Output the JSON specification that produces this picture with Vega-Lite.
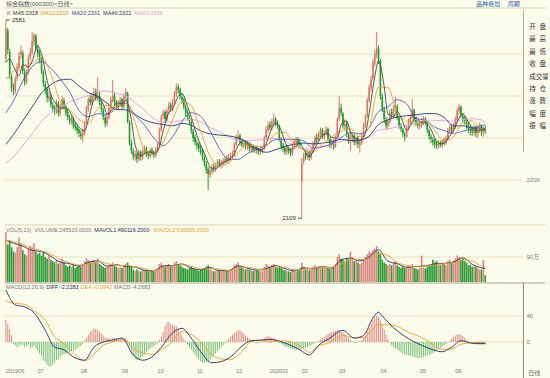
{
"$schema":"https://vega.github.io/schema/vega-lite/v6.json",
"width":550,"height":378,"padding":0,"autosize":{"type":"none"},
"background":"#fcfcec",
"config":{"view":{"stroke":null},"text":{"font":"Liberation Sans, Noto Sans CJK SC","fontSize":5.5,"baseline":"middle","align":"left"}},
"datasets":{
"k":[
{"i":0,"o":2490,"h":2581,"l":2480,"c":2560,"v":180,"m":34},
{"i":1,"o":2555,"h":2562,"l":2500,"c":2510,"v":135,"m":28},
{"i":2,"o":2505,"h":2512,"l":2440,"c":2450,"v":150,"m":20},
{"i":3,"o":2445,"h":2452,"l":2410,"c":2420,"v":125,"m":10},
{"i":4,"o":2418,"h":2430,"l":2402,"c":2415,"v":110,"m":-3},
{"i":5,"o":2412,"h":2448,"l":2405,"c":2440,"v":105,"m":-5},
{"i":6,"o":2442,"h":2478,"l":2436,"c":2470,"v":125,"m":-8},
{"i":7,"o":2468,"h":2505,"l":2460,"c":2495,"v":160,"m":-6},
{"i":8,"o":2498,"h":2520,"l":2488,"c":2505,"v":140,"m":-4},
{"i":9,"o":2502,"h":2508,"l":2452,"c":2460,"v":115,"m":-5},
{"i":10,"o":2458,"h":2465,"l":2425,"c":2435,"v":100,"m":-8},
{"i":11,"o":2432,"h":2462,"l":2428,"c":2455,"v":95,"m":-6},
{"i":12,"o":2456,"h":2498,"l":2450,"c":2490,"v":120,"m":-4},
{"i":13,"o":2492,"h":2515,"l":2485,"c":2505,"v":130,"m":-10},
{"i":14,"o":2503,"h":2552,"l":2498,"c":2530,"v":125,"m":-8},
{"i":15,"o":2528,"h":2550,"l":2520,"c":2545,"v":140,"m":-6},
{"i":16,"o":2543,"h":2548,"l":2508,"c":2515,"v":110,"m":-10},
{"i":17,"o":2512,"h":2522,"l":2492,"c":2500,"v":100,"m":-14},
{"i":18,"o":2502,"h":2510,"l":2478,"c":2485,"v":105,"m":-18},
{"i":19,"o":2483,"h":2490,"l":2452,"c":2460,"v":95,"m":-22},
{"i":20,"o":2458,"h":2462,"l":2422,"c":2430,"v":110,"m":-27},
{"i":21,"o":2428,"h":2436,"l":2405,"c":2415,"v":90,"m":-31},
{"i":22,"o":2418,"h":2422,"l":2385,"c":2395,"v":85,"m":-35},
{"i":23,"o":2392,"h":2412,"l":2386,"c":2400,"v":95,"m":-38},
{"i":24,"o":2398,"h":2405,"l":2372,"c":2380,"v":80,"m":-37},
{"i":25,"o":2378,"h":2386,"l":2362,"c":2370,"v":75,"m":-35},
{"i":26,"o":2372,"h":2378,"l":2355,"c":2365,"v":70,"m":-32},
{"i":27,"o":2362,"h":2392,"l":2358,"c":2385,"v":80,"m":-28},
{"i":28,"o":2383,"h":2388,"l":2352,"c":2360,"v":65,"m":-27},
{"i":29,"o":2358,"h":2382,"l":2352,"c":2375,"v":70,"m":-24},
{"i":30,"o":2373,"h":2400,"l":2368,"c":2392,"v":85,"m":-20},
{"i":31,"o":2390,"h":2396,"l":2368,"c":2375,"v":70,"m":-19},
{"i":32,"o":2373,"h":2380,"l":2352,"c":2360,"v":60,"m":-18},
{"i":33,"o":2362,"h":2368,"l":2342,"c":2350,"v":55,"m":-17},
{"i":34,"o":2348,"h":2355,"l":2332,"c":2340,"v":60,"m":-16},
{"i":35,"o":2338,"h":2352,"l":2332,"c":2345,"v":55,"m":-14},
{"i":36,"o":2346,"h":2350,"l":2322,"c":2330,"v":65,"m":-13},
{"i":37,"o":2332,"h":2338,"l":2318,"c":2325,"v":50,"m":-12},
{"i":38,"o":2326,"h":2332,"l":2310,"c":2318,"v":55,"m":-10},
{"i":39,"o":2320,"h":2325,"l":2302,"c":2312,"v":60,"m":-8},
{"i":40,"o":2310,"h":2318,"l":2296,"c":2305,"v":55,"m":-6},
{"i":41,"o":2302,"h":2322,"l":2290,"c":2315,"v":60,"m":-3},
{"i":42,"o":2312,"h":2340,"l":2306,"c":2335,"v":75,"m":2},
{"i":43,"o":2336,"h":2376,"l":2332,"c":2370,"v":85,"m":6},
{"i":44,"o":2368,"h":2398,"l":2362,"c":2392,"v":80,"m":11},
{"i":45,"o":2393,"h":2402,"l":2378,"c":2385,"v":70,"m":15},
{"i":46,"o":2383,"h":2408,"l":2378,"c":2400,"v":75,"m":18},
{"i":47,"o":2398,"h":2420,"l":2392,"c":2410,"v":80,"m":21},
{"i":48,"o":2412,"h":2418,"l":2388,"c":2395,"v":70,"m":20},
{"i":49,"o":2393,"h":2445,"l":2388,"c":2402,"v":85,"m":19},
{"i":50,"o":2400,"h":2410,"l":2378,"c":2385,"v":65,"m":16},
{"i":51,"o":2383,"h":2390,"l":2360,"c":2368,"v":60,"m":13},
{"i":52,"o":2366,"h":2372,"l":2342,"c":2350,"v":55,"m":10},
{"i":53,"o":2348,"h":2355,"l":2326,"c":2335,"v":50,"m":7},
{"i":54,"o":2333,"h":2358,"l":2328,"c":2350,"v":55,"m":6},
{"i":55,"o":2348,"h":2378,"l":2344,"c":2372,"v":60,"m":6},
{"i":56,"o":2370,"h":2398,"l":2365,"c":2390,"v":65,"m":5},
{"i":57,"o":2388,"h":2438,"l":2384,"c":2400,"v":70,"m":6},
{"i":58,"o":2402,"h":2410,"l":2378,"c":2385,"v":60,"m":6},
{"i":59,"o":2383,"h":2390,"l":2368,"c":2375,"v":55,"m":5},
{"i":60,"o":2372,"h":2390,"l":2366,"c":2382,"v":50,"m":4},
{"i":61,"o":2380,"h":2398,"l":2375,"c":2390,"v":55,"m":5},
{"i":62,"o":2392,"h":2396,"l":2368,"c":2375,"v":50,"m":4},
{"i":63,"o":2373,"h":2406,"l":2370,"c":2400,"v":60,"m":5},
{"i":64,"o":2398,"h":2418,"l":2392,"c":2410,"v":65,"m":6},
{"i":65,"o":2405,"h":2410,"l":2335,"c":2340,"v":70,"m":3},
{"i":66,"o":2338,"h":2342,"l":2282,"c":2290,"v":60,"m":-6},
{"i":67,"o":2288,"h":2295,"l":2262,"c":2270,"v":55,"m":-14},
{"i":68,"o":2268,"h":2275,"l":2248,"c":2258,"v":45,"m":-21},
{"i":69,"o":2255,"h":2270,"l":2246,"c":2262,"v":40,"m":-26},
{"i":70,"o":2262,"h":2268,"l":2240,"c":2250,"v":45,"m":-28},
{"i":71,"o":2248,"h":2272,"l":2244,"c":2265,"v":40,"m":-27},
{"i":72,"o":2266,"h":2270,"l":2246,"c":2255,"v":38,"m":-25},
{"i":73,"o":2253,"h":2275,"l":2248,"c":2268,"v":42,"m":-22},
{"i":74,"o":2266,"h":2282,"l":2260,"c":2275,"v":45,"m":-19},
{"i":75,"o":2276,"h":2280,"l":2255,"c":2262,"v":40,"m":-16},
{"i":76,"o":2262,"h":2268,"l":2250,"c":2258,"v":38,"m":-13},
{"i":77,"o":2256,"h":2276,"l":2252,"c":2270,"v":42,"m":-10},
{"i":78,"o":2272,"h":2278,"l":2258,"c":2265,"v":40,"m":-8},
{"i":79,"o":2266,"h":2270,"l":2252,"c":2260,"v":38,"m":-6},
{"i":80,"o":2258,"h":2278,"l":2254,"c":2272,"v":45,"m":-4},
{"i":81,"o":2270,"h":2290,"l":2265,"c":2285,"v":50,"m":-2},
{"i":82,"o":2286,"h":2325,"l":2282,"c":2320,"v":65,"m":3},
{"i":83,"o":2318,"h":2356,"l":2315,"c":2350,"v":70,"m":8},
{"i":84,"o":2352,"h":2368,"l":2345,"c":2360,"v":60,"m":16},
{"i":85,"o":2362,"h":2366,"l":2338,"c":2345,"v":55,"m":24},
{"i":86,"o":2343,"h":2372,"l":2340,"c":2365,"v":60,"m":30},
{"i":87,"o":2366,"h":2386,"l":2360,"c":2378,"v":65,"m":31},
{"i":88,"o":2380,"h":2385,"l":2362,"c":2370,"v":55,"m":28},
{"i":89,"o":2368,"h":2392,"l":2364,"c":2385,"v":60,"m":26},
{"i":90,"o":2386,"h":2412,"l":2380,"c":2405,"v":70,"m":25},
{"i":91,"o":2403,"h":2430,"l":2398,"c":2420,"v":75,"m":24},
{"i":92,"o":2422,"h":2428,"l":2406,"c":2415,"v":65,"m":20},
{"i":93,"o":2416,"h":2420,"l":2392,"c":2400,"v":60,"m":15},
{"i":94,"o":2398,"h":2405,"l":2382,"c":2390,"v":55,"m":10},
{"i":95,"o":2392,"h":2396,"l":2368,"c":2375,"v":50,"m":5},
{"i":96,"o":2374,"h":2380,"l":2352,"c":2360,"v":48,"m":1},
{"i":97,"o":2362,"h":2368,"l":2342,"c":2350,"v":45,"m":-4},
{"i":98,"o":2348,"h":2355,"l":2332,"c":2340,"v":50,"m":-8},
{"i":99,"o":2338,"h":2342,"l":2310,"c":2318,"v":55,"m":-12},
{"i":100,"o":2316,"h":2322,"l":2292,"c":2300,"v":50,"m":-16},
{"i":101,"o":2302,"h":2308,"l":2282,"c":2290,"v":45,"m":-20},
{"i":102,"o":2288,"h":2295,"l":2272,"c":2282,"v":42,"m":-24},
{"i":103,"o":2285,"h":2290,"l":2266,"c":2275,"v":40,"m":-27},
{"i":104,"o":2273,"h":2282,"l":2260,"c":2268,"v":45,"m":-30},
{"i":105,"o":2270,"h":2275,"l":2246,"c":2255,"v":48,"m":-32},
{"i":106,"o":2253,"h":2258,"l":2232,"c":2240,"v":50,"m":-32},
{"i":107,"o":2238,"h":2245,"l":2215,"c":2225,"v":55,"m":-31},
{"i":108,"o":2226,"h":2232,"l":2176,"c":2215,"v":60,"m":-30},
{"i":109,"o":2212,"h":2230,"l":2205,"c":2222,"v":45,"m":-27},
{"i":110,"o":2220,"h":2238,"l":2214,"c":2230,"v":42,"m":-24},
{"i":111,"o":2232,"h":2240,"l":2218,"c":2228,"v":38,"m":-21},
{"i":112,"o":2226,"h":2242,"l":2220,"c":2235,"v":40,"m":-18},
{"i":113,"o":2233,"h":2250,"l":2228,"c":2242,"v":45,"m":-14},
{"i":114,"o":2244,"h":2250,"l":2230,"c":2238,"v":40,"m":-11},
{"i":115,"o":2236,"h":2248,"l":2228,"c":2240,"v":38,"m":-8},
{"i":116,"o":2238,"h":2252,"l":2232,"c":2245,"v":42,"m":-5},
{"i":117,"o":2243,"h":2258,"l":2238,"c":2250,"v":45,"m":-2},
{"i":118,"o":2252,"h":2258,"l":2240,"c":2248,"v":40,"m":2},
{"i":119,"o":2246,"h":2262,"l":2240,"c":2255,"v":42,"m":5},
{"i":120,"o":2254,"h":2265,"l":2246,"c":2258,"v":45,"m":8},
{"i":121,"o":2256,"h":2270,"l":2250,"c":2262,"v":48,"m":11},
{"i":122,"o":2260,"h":2290,"l":2256,"c":2285,"v":60,"m":14},
{"i":123,"o":2284,"h":2308,"l":2280,"c":2300,"v":65,"m":16},
{"i":124,"o":2298,"h":2318,"l":2292,"c":2305,"v":70,"m":18},
{"i":125,"o":2306,"h":2310,"l":2282,"c":2290,"v":55,"m":18},
{"i":126,"o":2292,"h":2298,"l":2278,"c":2285,"v":50,"m":16},
{"i":127,"o":2283,"h":2295,"l":2276,"c":2288,"v":48,"m":13},
{"i":128,"o":2290,"h":2294,"l":2272,"c":2280,"v":45,"m":10},
{"i":129,"o":2278,"h":2292,"l":2272,"c":2285,"v":50,"m":7},
{"i":130,"o":2286,"h":2290,"l":2268,"c":2275,"v":45,"m":5},
{"i":131,"o":2273,"h":2287,"l":2266,"c":2280,"v":42,"m":3},
{"i":132,"o":2282,"h":2285,"l":2265,"c":2272,"v":40,"m":1},
{"i":133,"o":2270,"h":2283,"l":2264,"c":2276,"v":45,"m":-1},
{"i":134,"o":2278,"h":2282,"l":2262,"c":2270,"v":42,"m":-2},
{"i":135,"o":2272,"h":2276,"l":2260,"c":2268,"v":40,"m":-1},
{"i":136,"o":2266,"h":2279,"l":2260,"c":2272,"v":38,"m":1},
{"i":137,"o":2270,"h":2282,"l":2264,"c":2275,"v":42,"m":3},
{"i":138,"o":2276,"h":2306,"l":2272,"c":2300,"v":55,"m":6},
{"i":139,"o":2298,"h":2328,"l":2295,"c":2320,"v":65,"m":8},
{"i":140,"o":2318,"h":2338,"l":2312,"c":2330,"v":60,"m":9},
{"i":141,"o":2332,"h":2340,"l":2318,"c":2325,"v":55,"m":8},
{"i":142,"o":2323,"h":2345,"l":2318,"c":2338,"v":60,"m":7},
{"i":143,"o":2336,"h":2358,"l":2330,"c":2345,"v":65,"m":6},
{"i":144,"o":2346,"h":2350,"l":2328,"c":2335,"v":55,"m":4},
{"i":145,"o":2336,"h":2342,"l":2322,"c":2330,"v":50,"m":2},
{"i":146,"o":2328,"h":2332,"l":2292,"c":2300,"v":55,"m":-1},
{"i":147,"o":2298,"h":2302,"l":2272,"c":2280,"v":50,"m":-3},
{"i":148,"o":2282,"h":2288,"l":2266,"c":2275,"v":45,"m":-5},
{"i":149,"o":2276,"h":2282,"l":2260,"c":2268,"v":42,"m":-7},
{"i":150,"o":2266,"h":2282,"l":2260,"c":2275,"v":40,"m":-8},
{"i":151,"o":2276,"h":2280,"l":2262,"c":2270,"v":38,"m":-9},
{"i":152,"o":2272,"h":2276,"l":2256,"c":2265,"v":35,"m":-10},
{"i":153,"o":2263,"h":2286,"l":2258,"c":2280,"v":45,"m":-11},
{"i":154,"o":2278,"h":2298,"l":2274,"c":2292,"v":40,"m":-12},
{"i":155,"o":2290,"h":2302,"l":2282,"c":2295,"v":38,"m":-12},
{"i":156,"o":2298,"h":2302,"l":2280,"c":2288,"v":42,"m":-11},
{"i":157,"o":2290,"h":2296,"l":2276,"c":2283,"v":45,"m":-12},
{"i":158,"o":2195,"h":2252,"l":2109,"c":2240,"v":70,"m":-11},
{"i":159,"o":2244,"h":2265,"l":2238,"c":2258,"v":55,"m":-10},
{"i":160,"o":2264,"h":2272,"l":2248,"c":2258,"v":45,"m":-9},
{"i":161,"o":2255,"h":2272,"l":2248,"c":2265,"v":48,"m":-8},
{"i":162,"o":2266,"h":2270,"l":2246,"c":2255,"v":42,"m":-6},
{"i":163,"o":2253,"h":2276,"l":2248,"c":2270,"v":50,"m":-5},
{"i":164,"o":2268,"h":2292,"l":2264,"c":2285,"v":55,"m":-3},
{"i":165,"o":2284,"h":2306,"l":2280,"c":2300,"v":60,"m":-2},
{"i":166,"o":2302,"h":2310,"l":2288,"c":2295,"v":52,"m":0},
{"i":167,"o":2293,"h":2316,"l":2290,"c":2310,"v":58,"m":2},
{"i":168,"o":2308,"h":2325,"l":2302,"c":2318,"v":55,"m":4},
{"i":169,"o":2320,"h":2324,"l":2298,"c":2305,"v":50,"m":6},
{"i":170,"o":2302,"h":2318,"l":2296,"c":2312,"v":52,"m":8},
{"i":171,"o":2310,"h":2328,"l":2305,"c":2320,"v":55,"m":10},
{"i":172,"o":2322,"h":2325,"l":2292,"c":2300,"v":50,"m":12},
{"i":173,"o":2298,"h":2302,"l":2276,"c":2285,"v":48,"m":14},
{"i":174,"o":2283,"h":2298,"l":2276,"c":2290,"v":52,"m":15},
{"i":175,"o":2292,"h":2296,"l":2272,"c":2282,"v":55,"m":16},
{"i":176,"o":2280,"h":2306,"l":2276,"c":2300,"v":65,"m":17},
{"i":177,"o":2302,"h":2350,"l":2298,"c":2345,"v":90,"m":18},
{"i":178,"o":2345,"h":2400,"l":2340,"c":2370,"v":100,"m":18},
{"i":179,"o":2372,"h":2382,"l":2352,"c":2360,"v":85,"m":17},
{"i":180,"o":2358,"h":2362,"l":2322,"c":2330,"v":80,"m":15},
{"i":181,"o":2328,"h":2345,"l":2318,"c":2335,"v":75,"m":12},
{"i":182,"o":2336,"h":2340,"l":2302,"c":2310,"v":85,"m":9},
{"i":183,"o":2308,"h":2312,"l":2286,"c":2295,"v":80,"m":6},
{"i":184,"o":2292,"h":2318,"l":2270,"c":2300,"v":110,"m":3},
{"i":185,"o":2298,"h":2312,"l":2290,"c":2305,"v":90,"m":1},
{"i":186,"o":2306,"h":2310,"l":2282,"c":2290,"v":75,"m":-1},
{"i":187,"o":2288,"h":2306,"l":2282,"c":2300,"v":80,"m":-2},
{"i":188,"o":2302,"h":2305,"l":2276,"c":2285,"v":70,"m":-1},
{"i":189,"o":2282,"h":2296,"l":2265,"c":2290,"v":65,"m":1},
{"i":190,"o":2288,"h":2312,"l":2284,"c":2305,"v":70,"m":3},
{"i":191,"o":2303,"h":2336,"l":2300,"c":2330,"v":80,"m":6},
{"i":192,"o":2328,"h":2356,"l":2324,"c":2350,"v":90,"m":10},
{"i":193,"o":2352,"h":2396,"l":2348,"c":2390,"v":100,"m":16},
{"i":194,"o":2388,"h":2428,"l":2385,"c":2420,"v":110,"m":22},
{"i":195,"o":2418,"h":2448,"l":2410,"c":2440,"v":105,"m":28},
{"i":196,"o":2442,"h":2488,"l":2436,"c":2480,"v":115,"m":34},
{"i":197,"o":2478,"h":2510,"l":2470,"c":2500,"v":120,"m":38},
{"i":198,"o":2498,"h":2552,"l":2490,"c":2515,"v":130,"m":40},
{"i":199,"o":2512,"h":2520,"l":2476,"c":2485,"v":110,"m":38},
{"i":200,"o":2482,"h":2488,"l":2392,"c":2400,"v":100,"m":33},
{"i":201,"o":2398,"h":2405,"l":2362,"c":2370,"v":80,"m":26},
{"i":202,"o":2368,"h":2375,"l":2336,"c":2345,"v":70,"m":20},
{"i":203,"o":2342,"h":2350,"l":2322,"c":2330,"v":65,"m":12},
{"i":204,"o":2328,"h":2348,"l":2320,"c":2340,"v":60,"m":5},
{"i":205,"o":2338,"h":2368,"l":2334,"c":2360,"v":65,"m":-1},
{"i":206,"o":2362,"h":2370,"l":2346,"c":2355,"v":60,"m":-5},
{"i":207,"o":2352,"h":2378,"l":2348,"c":2370,"v":70,"m":-8},
{"i":208,"o":2368,"h":2398,"l":2362,"c":2378,"v":75,"m":-10},
{"i":209,"o":2376,"h":2380,"l":2342,"c":2350,"v":60,"m":-12},
{"i":210,"o":2348,"h":2352,"l":2322,"c":2330,"v":55,"m":-14},
{"i":211,"o":2330,"h":2336,"l":2314,"c":2322,"v":50,"m":-16},
{"i":212,"o":2320,"h":2325,"l":2302,"c":2310,"v":55,"m":-18},
{"i":213,"o":2308,"h":2315,"l":2292,"c":2305,"v":50,"m":-19},
{"i":214,"o":2303,"h":2330,"l":2300,"c":2325,"v":55,"m":-20},
{"i":215,"o":2323,"h":2346,"l":2318,"c":2340,"v":60,"m":-20},
{"i":216,"o":2338,"h":2356,"l":2332,"c":2350,"v":55,"m":-21},
{"i":217,"o":2348,"h":2392,"l":2344,"c":2368,"v":65,"m":-22},
{"i":218,"o":2366,"h":2370,"l":2338,"c":2345,"v":50,"m":-23},
{"i":219,"o":2343,"h":2350,"l":2328,"c":2335,"v":48,"m":-24},
{"i":220,"o":2336,"h":2342,"l":2322,"c":2330,"v":45,"m":-25},
{"i":221,"o":2328,"h":2340,"l":2320,"c":2332,"v":50,"m":-25},
{"i":222,"o":2330,"h":2348,"l":2324,"c":2340,"v":95,"m":-24},
{"i":223,"o":2338,"h":2352,"l":2330,"c":2345,"v":52,"m":-23},
{"i":224,"o":2346,"h":2350,"l":2330,"c":2338,"v":48,"m":-22},
{"i":225,"o":2336,"h":2340,"l":2312,"c":2320,"v":55,"m":-21},
{"i":226,"o":2318,"h":2322,"l":2296,"c":2305,"v":60,"m":-20},
{"i":227,"o":2303,"h":2310,"l":2288,"c":2298,"v":60,"m":-19},
{"i":228,"o":2296,"h":2302,"l":2282,"c":2290,"v":80,"m":-17},
{"i":229,"o":2292,"h":2298,"l":2276,"c":2285,"v":70,"m":-15},
{"i":230,"o":2286,"h":2292,"l":2274,"c":2282,"v":75,"m":-13},
{"i":231,"o":2280,"h":2295,"l":2274,"c":2288,"v":65,"m":-11},
{"i":232,"o":2290,"h":2294,"l":2278,"c":2285,"v":60,"m":-9},
{"i":233,"o":2283,"h":2298,"l":2276,"c":2292,"v":70,"m":-7},
{"i":234,"o":2294,"h":2300,"l":2282,"c":2290,"v":65,"m":-5},
{"i":235,"o":2288,"h":2306,"l":2284,"c":2300,"v":60,"m":-3},
{"i":236,"o":2298,"h":2324,"l":2294,"c":2318,"v":75,"m":-1},
{"i":237,"o":2316,"h":2332,"l":2310,"c":2325,"v":80,"m":2},
{"i":238,"o":2326,"h":2332,"l":2312,"c":2320,"v":70,"m":5},
{"i":239,"o":2318,"h":2335,"l":2314,"c":2328,"v":75,"m":8},
{"i":240,"o":2326,"h":2352,"l":2322,"c":2345,"v":85,"m":10},
{"i":241,"o":2343,"h":2372,"l":2340,"c":2365,"v":95,"m":12},
{"i":242,"o":2363,"h":2382,"l":2355,"c":2375,"v":90,"m":12},
{"i":243,"o":2374,"h":2378,"l":2348,"c":2355,"v":80,"m":11},
{"i":244,"o":2353,"h":2360,"l":2336,"c":2345,"v":85,"m":9},
{"i":245,"o":2346,"h":2352,"l":2332,"c":2340,"v":75,"m":6},
{"i":246,"o":2338,"h":2345,"l":2322,"c":2330,"v":70,"m":3},
{"i":247,"o":2332,"h":2338,"l":2312,"c":2322,"v":60,"m":1},
{"i":248,"o":2322,"h":2330,"l":2306,"c":2318,"v":62,"m":-1},
{"i":249,"o":2320,"h":2328,"l":2305,"c":2315,"v":55,"m":-2},
{"i":250,"o":2312,"h":2332,"l":2306,"c":2325,"v":60,"m":-3},
{"i":251,"o":2326,"h":2330,"l":2302,"c":2312,"v":55,"m":-4},
{"i":252,"o":2310,"h":2328,"l":2300,"c":2320,"v":50,"m":-4},
{"i":253,"o":2318,"h":2336,"l":2312,"c":2328,"v":45,"m":-4},
{"i":254,"o":2330,"h":2332,"l":2305,"c":2315,"v":45,"m":-5},
{"i":255,"o":2312,"h":2326,"l":2302,"c":2320,"v":80,"m":-4},
{"i":256,"o":2322,"h":2330,"l":2310,"c":2318,"v":24.55,"m":-4.27}
],
"ma5":[
{"i":0,"a":2480},{"i":2,"a":2488},{"i":4,"a":2471},{"i":7,"a":2448},{"i":9,"a":2474},{"i":12,"a":2469},{"i":14,"a":2483},{"i":17,"a":2519},{"i":19,"a":2501},{"i":22,"a":2437},{"i":24,"a":2404},{"i":27,"a":2380},{"i":29,"a":2371},{"i":32,"a":2372},{"i":34,"a":2363},{"i":37,"a":2338},{"i":39,"a":2326},{"i":42,"a":2317},{"i":44,"a":2343},{"i":47,"a":2391},{"i":49,"a":2398},{"i":52,"a":2380},{"i":54,"a":2358},{"i":57,"a":2369},{"i":59,"a":2384},{"i":62,"a":2381},{"i":64,"a":2391},{"i":67,"a":2342},{"i":69,"a":2284},{"i":72,"a":2258},{"i":74,"a":2263},{"i":77,"a":2267},{"i":79,"a":2263},{"i":82,"a":2280},{"i":84,"a":2317},{"i":87,"a":2360},{"i":89,"a":2369},{"i":92,"a":2399},{"i":94,"a":2406},{"i":97,"a":2375},{"i":99,"a":2349},{"i":102,"a":2306},{"i":104,"a":2283},{"i":107,"a":2253},{"i":109,"a":2231},{"i":112,"a":2226},{"i":114,"a":2235},{"i":117,"a":2243},{"i":119,"a":2248},{"i":122,"a":2262},{"i":124,"a":2282},{"i":127,"a":2294},{"i":129,"a":2286},{"i":132,"a":2278},{"i":134,"a":2275},{"i":137,"a":2272},{"i":139,"a":2287},{"i":142,"a":2323},{"i":144,"a":2335},{"i":147,"a":2318},{"i":149,"a":2291},{"i":152,"a":2271},{"i":154,"a":2276},{"i":157,"a":2288},{"i":159,"a":2273},{"i":162,"a":2255},{"i":164,"a":2267},{"i":167,"a":2292},{"i":169,"a":2306},{"i":172,"a":2311},{"i":174,"a":2301},{"i":177,"a":2300},{"i":179,"a":2331},{"i":182,"a":2341},{"i":184,"a":2314},{"i":187,"a":2298},{"i":189,"a":2294},{"i":192,"a":2312},{"i":194,"a":2359},{"i":197,"a":2446},{"i":199,"a":2484},{"i":202,"a":2423},{"i":204,"a":2357},{"i":207,"a":2351},{"i":209,"a":2363},{"i":212,"a":2338},{"i":214,"a":2318},{"i":217,"a":2338},{"i":219,"a":2348},{"i":222,"a":2336},{"i":224,"a":2337},{"i":227,"a":2321},{"i":229,"a":2300},{"i":232,"a":2286},{"i":234,"a":2287},{"i":237,"a":2305},{"i":239,"a":2318},{"i":242,"a":2347},{"i":244,"a":2357},{"i":247,"a":2338},{"i":249,"a":2325},{"i":252,"a":2318},{"i":254,"a":2320},{"i":256,"a":2318}
],
"ma":[
{"i":0,"a10":2440,"a20":2360,"a40":2285,"a60":2240},
{"i":4,"a10":2460,"a20":2388,"a40":2308,"a60":2255},
{"i":9,"a10":2472,"a20":2436,"a40":2341,"a60":2282},
{"i":14,"a10":2478,"a20":2470,"a40":2374,"a60":2310},
{"i":19,"a10":2492,"a20":2482,"a40":2407,"a60":2339},
{"i":24,"a10":2452,"a20":2466,"a40":2427,"a60":2360},
{"i":29,"a10":2387,"a20":2440,"a40":2438,"a60":2374},
{"i":34,"a10":2367,"a20":2410,"a40":2440,"a60":2386},
{"i":39,"a10":2344,"a20":2366,"a40":2424,"a60":2394},
{"i":44,"a10":2334,"a20":2351,"a40":2408,"a60":2401},
{"i":49,"a10":2370,"a20":2358,"a40":2399,"a60":2411},
{"i":54,"a10":2378,"a20":2356,"a40":2383,"a60":2412},
{"i":59,"a10":2371,"a20":2371,"a40":2368,"a60":2406},
{"i":64,"a10":2387,"a20":2383,"a40":2367,"a60":2400},
{"i":69,"a10":2337,"a20":2354,"a40":2356,"a60":2384},
{"i":74,"a10":2273,"a20":2331,"a40":2343,"a60":2366},
{"i":79,"a10":2263,"a20":2300,"a40":2336,"a60":2346},
{"i":84,"a10":2290,"a20":2282,"a40":2332,"a60":2338},
{"i":89,"a10":2343,"a20":2303,"a40":2329,"a60":2338},
{"i":94,"a10":2387,"a20":2339,"a40":2335,"a60":2342},
{"i":99,"a10":2377,"a20":2360,"a40":2330,"a60":2344},
{"i":104,"a10":2316,"a20":2352,"a40":2317,"a60":2339},
{"i":109,"a10":2257,"a20":2317,"a40":2310,"a60":2325},
{"i":114,"a10":2233,"a20":2275,"a40":2307,"a60":2315},
{"i":119,"a10":2241,"a20":2249,"a40":2305,"a60":2303},
{"i":124,"a10":2265,"a20":2249,"a40":2300,"a60":2294},
{"i":129,"a10":2284,"a20":2263,"a40":2290,"a60":2294},
{"i":134,"a10":2280,"a20":2273,"a40":2274,"a60":2295},
{"i":139,"a10":2281,"a20":2283,"a40":2266,"a60":2297},
{"i":144,"a10":2311,"a20":2296,"a40":2272,"a60":2299},
{"i":149,"a10":2313,"a20":2297,"a40":2280,"a60":2292},
{"i":154,"a10":2283,"a20":2297,"a40":2285,"a60":2282},
{"i":159,"a10":2272,"a20":2293,"a40":2288,"a60":2275},
{"i":164,"a10":2267,"a20":2276,"a40":2286,"a60":2273},
{"i":169,"a10":2286,"a20":2279,"a40":2288,"a60":2280},
{"i":174,"a10":2303,"a20":2286,"a40":2291,"a60":2285},
{"i":179,"a10":2316,"a20":2301,"a40":2297,"a60":2292},
{"i":184,"a10":2322,"a20":2313,"a40":2294,"a60":2295},
{"i":189,"a10":2304,"a20":2310,"a40":2295,"a60":2295},
{"i":194,"a10":2326,"a20":2325,"a40":2305,"a60":2302},
{"i":199,"a10":2421,"a20":2363,"a40":2332,"a60":2319},
{"i":204,"a10":2420,"a20":2374,"a40":2343,"a60":2321},
{"i":209,"a10":2360,"a20":2391,"a40":2350,"a60":2327},
{"i":214,"a10":2340,"a20":2381,"a40":2353,"a60":2330},
{"i":219,"a10":2333,"a20":2347,"a40":2355,"a60":2337},
{"i":224,"a10":2342,"a20":2342,"a40":2358,"a60":2343},
{"i":229,"a10":2318,"a20":2326,"a40":2358,"a60":2342},
{"i":234,"a10":2293,"a20":2318,"a40":2349,"a60":2341},
{"i":239,"a10":2302,"a20":2311,"a40":2329,"a60":2340},
{"i":244,"a10":2337,"a20":2316,"a40":2329,"a60":2344},
{"i":249,"a10":2341,"a20":2322,"a40":2324,"a60":2346},
{"i":254,"a10":2322,"a20":2330,"a40":2324,"a60":2343},
{"i":256,"a10":2319,"a20":2331,"a40":2321,"a60":2336}
],
"vma":[
{"i":0,"a":150,"b":150},{"i":4,"a":140,"b":145},{"i":9,"a":129,"b":134.5},{"i":14,"a":114,"b":121.5},{"i":19,"a":110,"b":112},{"i":24,"a":92,"b":101},{"i":29,"a":72,"b":82},{"i":34,"a":66,"b":69},{"i":39,"a":57,"b":61.5},{"i":44,"a":71,"b":64},{"i":49,"a":76,"b":73.5},{"i":54,"a":57,"b":66.5},{"i":59,"a":62,"b":59.5},{"i":64,"a":56,"b":59},{"i":69,"a":54,"b":55},{"i":74,"a":42,"b":48},{"i":79,"a":40,"b":41},{"i":84,"a":58,"b":49},{"i":89,"a":59,"b":58.5},{"i":94,"a":65,"b":62},{"i":99,"a":50,"b":57.5},{"i":104,"a":44,"b":47},{"i":109,"a":52,"b":48},{"i":114,"a":41,"b":46.5},{"i":119,"a":41,"b":41},{"i":124,"a":58,"b":49.5},{"i":129,"a":50,"b":54},{"i":134,"a":43,"b":46.5},{"i":139,"a":48,"b":45.5},{"i":144,"a":59,"b":53.5},{"i":149,"a":48,"b":53.5},{"i":154,"a":40,"b":44},{"i":159,"a":51,"b":45.5},{"i":164,"a":48,"b":49.5},{"i":169,"a":55,"b":51.5},{"i":174,"a":51,"b":53},{"i":179,"a":79,"b":65},{"i":184,"a":86,"b":82.5},{"i":189,"a":76,"b":81},{"i":194,"a":90,"b":83},{"i":199,"a":116,"b":103},{"i":204,"a":75,"b":95.5},{"i":209,"a":66,"b":70.5},{"i":214,"a":53,"b":59.5},{"i":219,"a":56,"b":54.5},{"i":224,"a":58,"b":57},{"i":229,"a":65,"b":61.5},{"i":234,"a":67,"b":66},{"i":239,"a":72,"b":69.5},{"i":244,"a":87,"b":79.5},{"i":249,"a":64,"b":75.5},{"i":254,"a":51,"b":57.5},{"i":256,"a":49,"b":53.7}
],
"dd":[
{"i":0,"d":80,"e":63},{"i":5,"d":57,"e":59.5},{"i":10,"d":54,"e":58},{"i":15,"d":45,"e":48},{"i":21,"d":18,"e":33.5},{"i":26,"d":-8,"e":8},{"i":31,"d":-12,"e":-2.5},{"i":36,"d":-23,"e":-16.5},{"i":42,"d":-28,"e":-29},{"i":47,"d":-8,"e":-18.5},{"i":52,"d":0,"e":-5},{"i":57,"d":3,"e":0},{"i":62,"d":6,"e":4},{"i":68,"d":-20,"e":-9.5},{"i":73,"d":-28,"e":-17},{"i":78,"d":-23,"e":-19},{"i":83,"d":-8,"e":-12},{"i":89,"d":14,"e":1},{"i":94,"d":21,"e":16},{"i":99,"d":6,"e":12},{"i":104,"d":-15,"e":0},{"i":110,"d":-32,"e":-20},{"i":115,"d":-30,"e":-26},{"i":120,"d":-23,"e":-27},{"i":125,"d":-9,"e":-18},{"i":131,"d":2,"e":0.5},{"i":136,"d":3,"e":2.5},{"i":141,"d":4,"e":0},{"i":149,"d":-1.5,"e":2},{"i":157,"d":-12,"e":-6},{"i":162,"d":-20,"e":-16},{"i":167,"d":-5,"e":-6},{"i":173,"d":6,"e":-1},{"i":180,"d":18,"e":10.5},{"i":186,"d":6,"e":6.5},{"i":191,"d":10,"e":7},{"i":196,"d":37,"e":20},{"i":199,"d":46,"e":27},{"i":201,"d":40,"e":27},{"i":207,"d":22,"e":26},{"i":215,"d":5,"e":15},{"i":222,"d":-5,"e":7},{"i":228,"d":-12,"e":-3.5},{"i":233,"d":-15,"e":-11.5},{"i":238,"d":-8,"e":-10.5},{"i":243,"d":2,"e":-3.5},{"i":249,"d":-2,"e":-1},{"i":256,"d":-2.2283,"e":-0.0942}
],
"mon":[
{"i":0,"t":"201906"},{"i":17,"t":"07"},{"i":40,"t":"08"},{"i":62,"t":"09"},{"i":81,"t":"10"},{"i":102,"t":"11"},{"i":123,"t":"12"},{"i":141,"t":"202001"},{"i":158,"t":"02"},{"i":178,"t":"03"},{"i":200,"t":"04"},{"i":221,"t":"05"},{"i":240,"t":"06"}
],
"tab":[
{"r":1,"t":"开\u00a0\u00a0盘"},{"r":2,"t":"最\u00a0\u00a0高"},{"r":3,"t":"最\u00a0\u00a0低"},{"r":4,"t":"收\u00a0\u00a0盘"},{"r":5,"t":"成交量"},{"r":6,"t":"持\u00a0\u00a0仓"},{"r":7,"t":"涨\u00a0\u00a0跌"},{"r":8,"t":"幅\u00a0\u00a0度"},{"r":9,"t":"振\u00a0\u00a0幅"}
]
},
"resolve":{"scale":{"y":"independent"}},
"layer":[
{"layer":[
{"data":{"values":[{"g":2200},{"g":2300},{"g":2400},{"g":2500}]},"mark":{"type":"rule","color":"#e6e2c8","strokeWidth":1},
 "encoding":{"x":{"datum":-0.5,"type":"quantitative","scale":{"domain":[-0.5,287.9],"nice":false,"zero":false},"axis":null},"x2":{"datum":276.4},"y":{"field":"g","type":"quantitative","scale":{"domain":[2200,2500],"range":[180,54],"nice":false,"zero":false},"axis":null}}},
{"data":{"values":[{}]},"mark":{"type":"rule","color":"#d8d4b8","strokeWidth":1},
 "encoding":{"x":{"datum":-0.5,"type":"quantitative","axis":null},"x2":{"datum":287.9},"y":{"datum":2609.5,"type":"quantitative","axis":null}}},
{"data":{"values":[{}]},"mark":{"type":"rule","color":"#d8d4b8","strokeWidth":1},
 "encoding":{"x":{"datum":-0.5,"type":"quantitative","axis":null},"x2":{"datum":287.9},"y":{"datum":2092.9,"type":"quantitative","axis":null}}},
{"data":{"values":[{}]},"mark":{"type":"rule","color":"#b4b09a","strokeWidth":1},
 "encoding":{"x":{"datum":276.4,"type":"quantitative","axis":null},"y":{"datum":2604.8,"type":"quantitative","axis":null},"y2":{"datum":2266.7}}},
{"data":{"name":"k"},"mark":{"type":"rule","strokeWidth":1},
 "encoding":{"x":{"field":"i","type":"quantitative","axis":null},"y":{"field":"l","type":"quantitative","axis":null},"y2":{"field":"h"},
 "color":{"condition":{"test":"datum.c >= datum.o","value":"#d9776b"},"value":"#1e9b2a"}}},
{"data":{"name":"k"},"mark":{"type":"bar","size":1.6},
 "encoding":{"x":{"field":"i","type":"quantitative","axis":null},"y":{"field":"o","type":"quantitative","axis":null},"y2":{"field":"c"},
 "color":{"condition":{"test":"datum.c >= datum.o","value":"#d9776b"},"value":"#1e9b2a"}}},
{"data":{"name":"ma"},"mark":{"type":"line","color":"#e3a9df","strokeWidth":1,"interpolate":"monotone"},
 "encoding":{"x":{"field":"i","type":"quantitative","axis":null},"y":{"field":"a60","type":"quantitative","axis":null}}},
{"data":{"name":"ma"},"mark":{"type":"line","color":"#27376e","strokeWidth":0.9,"interpolate":"monotone"},
 "encoding":{"x":{"field":"i","type":"quantitative","axis":null},"y":{"field":"a40","type":"quantitative","axis":null}}},
{"data":{"name":"ma"},"mark":{"type":"line","color":"#5a5ab8","strokeWidth":0.9,"interpolate":"monotone"},
 "encoding":{"x":{"field":"i","type":"quantitative","axis":null},"y":{"field":"a20","type":"quantitative","axis":null}}},
{"data":{"name":"ma"},"mark":{"type":"line","color":"#e6a23c","strokeWidth":0.9,"interpolate":"monotone"},
 "encoding":{"x":{"field":"i","type":"quantitative","axis":null},"y":{"field":"a10","type":"quantitative","axis":null}}},
{"data":{"name":"ma5"},"mark":{"type":"line","color":"#444444","strokeWidth":0.9,"interpolate":"monotone"},
 "encoding":{"x":{"field":"i","type":"quantitative","axis":null},"y":{"field":"a","type":"quantitative","axis":null}}},
{"data":{"values":[{"i":0,"p":2581}]},"mark":{"type":"rule","color":"#555","strokeWidth":1},
 "encoding":{"x":{"field":"i","type":"quantitative","axis":null},"x2":{"datum":2},"y":{"field":"p","type":"quantitative","axis":null}}},
{"data":{"values":[{"i":0,"p":2581}]},"mark":{"type":"text","text":"2581","color":"#333","dx":6,"fontSize":6},
 "encoding":{"x":{"field":"i","type":"quantitative","axis":null},"y":{"field":"p","type":"quantitative","axis":null}}},
{"data":{"values":[{"i":158,"p":2109}]},"mark":{"type":"rule","color":"#555","strokeWidth":1},
 "encoding":{"x":{"field":"i","type":"quantitative","axis":null},"x2":{"datum":156},"y":{"field":"p","type":"quantitative","axis":null}}},
{"data":{"values":[{"i":158,"p":2109}]},"mark":{"type":"text","text":"2109","color":"#333","align":"right","dx":-6,"fontSize":6},
 "encoding":{"x":{"field":"i","type":"quantitative","axis":null},"y":{"field":"p","type":"quantitative","axis":null}}},
{"data":{"values":[{}]},"mark":{"type":"text","text":"综合指数(000300)<日线>","color":"#555","fontSize":6},
 "encoding":{"x":{"datum":0,"type":"quantitative","axis":null},"y":{"datum":2619,"type":"quantitative","axis":null}}},
{"data":{"values":[{}]},"mark":{"type":"text","text":"品种叠加","color":"#2f5ea8","fontSize":6},
 "encoding":{"x":{"datum":251.2,"type":"quantitative","axis":null},"y":{"datum":2619,"type":"quantitative","axis":null}}},
{"data":{"values":[{}]},"mark":{"type":"text","text":"周期","color":"#2f5ea8","fontSize":6},
 "encoding":{"x":{"datum":268,"type":"quantitative","axis":null},"y":{"datum":2619,"type":"quantitative","axis":null}}},
{"data":{"values":[{}]},"mark":{"type":"text","text":"K","color":"#666"},
 "encoding":{"x":{"datum":0.55,"type":"quantitative","axis":null},"y":{"datum":2597.6,"type":"quantitative","axis":null}}},
{"data":{"values":[{}]},"mark":{"type":"text","text":"MA5:2318","color":"#333"},
 "encoding":{"x":{"datum":3.7,"type":"quantitative","axis":null},"y":{"datum":2597.6,"type":"quantitative","axis":null}}},
{"data":{"values":[{}]},"mark":{"type":"text","text":"MA10:2319","color":"#e09a30"},
 "encoding":{"x":{"datum":18.4,"type":"quantitative","axis":null},"y":{"datum":2597.6,"type":"quantitative","axis":null}}},
{"data":{"values":[{}]},"mark":{"type":"text","text":"MA20:2331","color":"#3c3c9c"},
 "encoding":{"x":{"datum":35.2,"type":"quantitative","axis":null},"y":{"datum":2597.6,"type":"quantitative","axis":null}}},
{"data":{"values":[{}]},"mark":{"type":"text","text":"MA40:2321","color":"#1f2f66"},
 "encoding":{"x":{"datum":51.9,"type":"quantitative","axis":null},"y":{"datum":2597.6,"type":"quantitative","axis":null}}},
{"data":{"values":[{}]},"mark":{"type":"text","text":"MA60:2336","color":"#dea0da"},
 "encoding":{"x":{"datum":68.7,"type":"quantitative","axis":null},"y":{"datum":2597.6,"type":"quantitative","axis":null}}},
{"data":{"values":[{}]},"mark":{"type":"text","text":"2200","color":"#777","fontSize":6},
 "encoding":{"x":{"datum":278,"type":"quantitative","axis":null},"y":{"datum":2200,"type":"quantitative","axis":null}}}
]},
{"layer":[
{"data":{"values":[{}]},"mark":{"type":"rule","color":"#e6e2c8","strokeWidth":1},
 "encoding":{"x":{"datum":-0.5,"type":"quantitative","axis":null},"x2":{"datum":276.4},"y":{"datum":90,"type":"quantitative","scale":{"domain":[0,90],"range":[282,257],"nice":false,"zero":false},"axis":null}}},
{"data":{"name":"k"},"mark":{"type":"bar","size":1.6},
 "encoding":{"x":{"field":"i","type":"quantitative","axis":null},"y":{"field":"v","type":"quantitative","axis":null},"y2":{"datum":0},
 "color":{"condition":{"test":"datum.c >= datum.o","value":"#d98a80"},"value":"#2a9b33"}}},
{"data":{"name":"vma"},"mark":{"type":"line","color":"#2a2a5e","strokeWidth":0.9,"interpolate":"monotone"},
 "encoding":{"x":{"field":"i","type":"quantitative","axis":null},"y":{"field":"a","type":"quantitative","axis":null}}},
{"data":{"name":"vma"},"mark":{"type":"line","color":"#e6a23c","strokeWidth":0.9,"interpolate":"monotone"},
 "encoding":{"x":{"field":"i","type":"quantitative","axis":null},"y":{"field":"b","type":"quantitative","axis":null}}},
{"data":{"values":[{}]},"mark":{"type":"text","text":"VOL(5,10)","color":"#777"},
 "encoding":{"x":{"datum":0,"type":"quantitative","axis":null},"y":{"datum":187.2,"type":"quantitative","axis":null}}},
{"data":{"values":[{}]},"mark":{"type":"text","text":"VOLUME:245520.0000","color":"#777"},
 "encoding":{"x":{"datum":15.2,"type":"quantitative","axis":null},"y":{"datum":187.2,"type":"quantitative","axis":null}}},
{"data":{"values":[{}]},"mark":{"type":"text","text":"MAVOL1:490116.2000","color":"#2a2a5e"},
 "encoding":{"x":{"datum":47.2,"type":"quantitative","axis":null},"y":{"datum":187.2,"type":"quantitative","axis":null}}},
{"data":{"values":[{}]},"mark":{"type":"text","text":"MAVOL2:536655.2000","color":"#e6a23c"},
 "encoding":{"x":{"datum":78.7,"type":"quantitative","axis":null},"y":{"datum":187.2,"type":"quantitative","axis":null}}},
{"data":{"values":[{}]},"mark":{"type":"text","text":"90万","color":"#777","fontSize":6},
 "encoding":{"x":{"datum":278,"type":"quantitative","axis":null},"y":{"datum":90,"type":"quantitative","axis":null}}}
]},
{"layer":[
{"data":{"values":[{"g":0},{"g":40}]},"mark":{"type":"rule","color":"#e6e2c8","strokeWidth":1},
 "encoding":{"x":{"datum":-0.5,"type":"quantitative","axis":null},"x2":{"datum":276.4},"y":{"field":"g","type":"quantitative","scale":{"domain":[0,40],"range":[342,316],"nice":false,"zero":false},"axis":null}}},
{"data":{"values":[{}]},"mark":{"type":"rule","color":"#a8a592","strokeWidth":1},
 "encoding":{"x":{"datum":-0.5,"type":"quantitative","axis":null},"x2":{"datum":287.9},"y":{"datum":90.8,"type":"quantitative","axis":null}}},
{"data":{"values":[{}]},"mark":{"type":"rule","color":"#8c8a7c","strokeWidth":1},
 "encoding":{"x":{"datum":276.4,"type":"quantitative","axis":null},"y":{"datum":90.8,"type":"quantitative","axis":null},"y2":{"datum":-55.4}}},
{"data":{"name":"k"},"mark":{"type":"rule","strokeWidth":1},
 "encoding":{"x":{"field":"i","type":"quantitative","axis":null},"y":{"field":"m","type":"quantitative","axis":null},"y2":{"datum":0},
 "color":{"condition":{"test":"datum.m >= 0","value":"#e08a80"},"value":"#7cc27c"}}},
{"data":{"name":"dd"},"mark":{"type":"line","color":"#e6a23c","strokeWidth":0.9,"interpolate":"monotone"},
 "encoding":{"x":{"field":"i","type":"quantitative","axis":null},"y":{"field":"e","type":"quantitative","axis":null}}},
{"data":{"name":"dd"},"mark":{"type":"line","color":"#2a2a5e","strokeWidth":0.9,"interpolate":"monotone"},
 "encoding":{"x":{"field":"i","type":"quantitative","axis":null},"y":{"field":"d","type":"quantitative","axis":null}}},
{"data":{"values":[{}]},"mark":{"type":"text","text":"MACD(12,26,9)","color":"#777"},
 "encoding":{"x":{"datum":0,"type":"quantitative","axis":null},"y":{"datum":84.6,"type":"quantitative","axis":null}}},
{"data":{"values":[{}]},"mark":{"type":"text","text":"DIFF:-2.2283","color":"#2a2a5e"},
 "encoding":{"x":{"datum":21.5,"type":"quantitative","axis":null},"y":{"datum":84.6,"type":"quantitative","axis":null}}},
{"data":{"values":[{}]},"mark":{"type":"text","text":"DEA:-0.0942","color":"#e6a23c"},
 "encoding":{"x":{"datum":39.9,"type":"quantitative","axis":null},"y":{"datum":84.6,"type":"quantitative","axis":null}}},
{"data":{"values":[{}]},"mark":{"type":"text","text":"MACD:-4.2683","color":"#777"},
 "encoding":{"x":{"datum":57.7,"type":"quantitative","axis":null},"y":{"datum":84.6,"type":"quantitative","axis":null}}},
{"data":{"values":[{}]},"mark":{"type":"text","text":"40","color":"#777","fontSize":6},
 "encoding":{"x":{"datum":278,"type":"quantitative","axis":null},"y":{"datum":40,"type":"quantitative","axis":null}}},
{"data":{"values":[{}]},"mark":{"type":"text","text":"0","color":"#777","fontSize":6},
 "encoding":{"x":{"datum":278,"type":"quantitative","axis":null},"y":{"datum":0,"type":"quantitative","axis":null}}},
{"data":{"values":[{}]},"mark":{"type":"text","text":"日线","color":"#666","fontSize":6},
 "encoding":{"x":{"datum":279,"type":"quantitative","axis":null},"y":{"datum":-47.7,"type":"quantitative","axis":null}}},
{"data":{"name":"mon"},"mark":{"type":"text","color":"#777"},
 "encoding":{"x":{"field":"i","type":"quantitative","axis":null},"y":{"datum":-45,"type":"quantitative","axis":null},"text":{"field":"t"}}}
]},
{"layer":[
{"data":{"name":"tab"},"mark":{"type":"text","color":"#333","fontSize":6.5},
 "encoding":{"x":{"datum":279.5,"type":"quantitative","axis":null},"y":{"field":"r","type":"quantitative","scale":{"domain":[1,9],"range":[27,126],"nice":false,"zero":false},"axis":null},"text":{"field":"t"}}}
]}
]
}
